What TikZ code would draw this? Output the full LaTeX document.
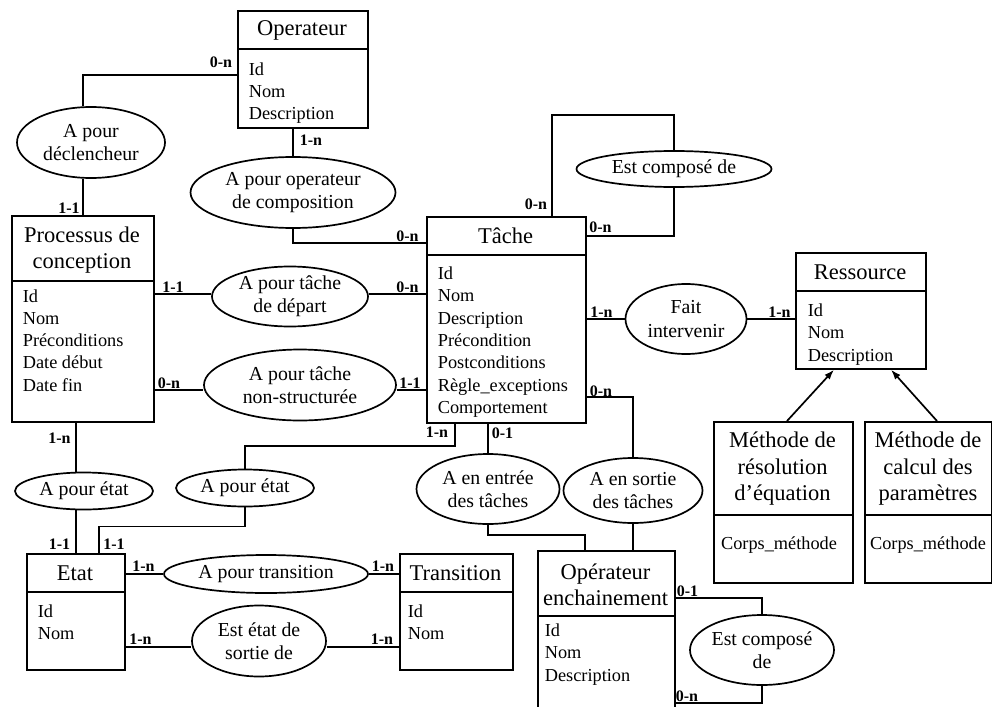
\documentclass[tikz,border=0pt]{standalone}
\usepackage{fontspec}
\setmainfont{Liberation Serif}
\usetikzlibrary{arrows.meta,calc,positioning,shapes.geometric}

\begin{document}
\begin{tikzpicture}[x=1pt, y=-1pt, line width=1.7pt,
    entity/.style={rectangle, draw, anchor=north west, inner sep=0pt},
    etitle/.style={font=\fontsize{22.5}{26.5}\selectfont, align=center, inner sep=0pt},
    attrs/.style={font=\fontsize{18.3}{22.3}\selectfont, align=left, anchor=north west, inner sep=0pt},
    relation/.style={ellipse, draw, font=\fontsize{19.8}{23.3}\selectfont, align=center, inner sep=0pt},
    card/.style={font=\bfseries\fontsize{16}{16}\selectfont, inner sep=0pt},
    isa/.style={-{Latex[length=10pt, width=7pt]}}]
    \clip (0,0) rectangle (992,706);

    % entites
    \node[entity, minimum width=130pt, minimum height=117pt] (oper) at (237,10) {};
    \draw (oper.west |- 0,49) -- (oper.east |- 0,49);
    \node[etitle] (operT) at (302,30) {Operateur};
    \node[attrs] (operA) at (248,61.5) {Id\\Nom\\Description};

    \node[entity, minimum width=142pt, minimum height=206pt] (proc) at (11,215) {};
    \draw (proc.west |- 0,281) -- (proc.east |- 0,281);
    \node[etitle] (procT) at (82,250) {Processus de\\conception};
    \node[attrs] (procA) at (22,288.5) {Id\\Nom\\Préconditions\\Date début\\Date fin};

    \node[entity, minimum width=159pt, minimum height=206pt] (tache) at (426,216) {};
    \draw (tache.west |- 0,255) -- (tache.east |- 0,255);
    \node[etitle] (tacheT) at (505.5,236) {Tâche};
    \node[attrs] (tacheA) at (437,266) {Id\\Nom\\Description\\Précondition\\Postconditions\\Règle\_exceptions\\Comportement};

    \node[entity, minimum width=130pt, minimum height=116pt] (ress) at (795,252) {};
    \draw (ress.west |- 0,291) -- (ress.east |- 0,291);
    \node[etitle] (ressT) at (860,272) {Ressource};
    \node[attrs] (ressA) at (807,303) {Id\\Nom\\Description};

    \node[entity, minimum width=139pt, minimum height=161pt] (meth1) at (713,421) {};
    \draw (meth1.west |- 0,515) -- (meth1.east |- 0,515);
    \node[etitle] (meth1T) at (782.5,469) {Méthode de\\résolution\\d’équation};
    \node[attrs, anchor=center] (meth1A) at (779,545) {Corps\_méthode};

    \node[entity, minimum width=127pt, minimum height=161pt] (meth2) at (864,421) {};
    \draw (meth2.west |- 0,515) -- (meth2.east |- 0,515);
    \node[etitle] (meth2T) at (928,469) {Méthode de\\calcul des\\paramètres};
    \node[attrs, anchor=center] (meth2A) at (928,545) {Corps\_méthode};

    \node[entity, minimum width=98pt, minimum height=116pt] (etat) at (26,553) {};
    \draw (etat.west |- 0,592) -- (etat.east |- 0,592);
    \node[etitle] (etatT) at (75,573) {Etat};
    \node[attrs] (etatA) at (37,603.5) {Id\\Nom};

    \node[entity, minimum width=113pt, minimum height=116pt] (transi) at (399,553) {};
    \draw (transi.west |- 0,592) -- (transi.east |- 0,592);
    \node[etitle] (transiT) at (455.5,573) {Transition};
    \node[attrs] (transiA) at (407,603.5) {Id\\Nom};

    \node[entity, minimum width=137pt, minimum height=170pt] (opench) at (537,550) {};
    \draw (opench.west |- 0,616) -- (opench.east |- 0,616);
    \node[etitle] (openchT) at (605.5,585) {Opérateur\\enchainement};
    \node[attrs] (openchA) at (544,623) {Id\\Nom\\Description};

    % associations
    \node[relation, minimum width=148pt, minimum height=71pt] (decl) at (91,142.5) {A pour\\déclencheur};
    \node[relation, minimum width=205pt, minimum height=71pt] (opcomp) at (293,192.5) {A pour operateur\\de composition};
    \node[relation, minimum width=195pt, minimum height=36pt] (estcomp) at (674,169) {Est composé de};
    \node[relation, minimum width=156pt, minimum height=60pt] (depart) at (290,296.5) {A pour tâche\\de départ};
    \node[relation, minimum width=192pt, minimum height=71pt] (nonstruct) at (300,385) {A pour tâche\\non-structurée};
    \node[relation, minimum width=121pt, minimum height=70pt] (fait) at (686,319) {Fait\\intervenir};
    \node[relation, minimum width=138pt, minimum height=37pt] (etat1) at (84,491) {A pour état};
    \node[relation, minimum width=138pt, minimum height=37pt] (etat2) at (245,488) {A pour état};
    \node[relation, minimum width=204pt, minimum height=38pt] (trans) at (266,574) {A pour transition};
    \node[relation, minimum width=134pt, minimum height=71pt] (sortie) at (259,641) {Est état de\\sortie de};
    \node[relation, minimum width=143pt, minimum height=70pt] (entree) at (488,489) {A en entrée\\des tâches};
    \node[relation, minimum width=139pt, minimum height=65pt] (ensortie) at (633,490.5) {A en sortie\\des tâches};
    \node[relation, minimum width=144pt, minimum height=70pt] (estcomp2) at (762,650) {Est composé\\de};

    % liens
    \draw (oper.west |- 0,75) -| (decl.north -| 83,0);
    \draw (decl.south -| 83,0) -- (proc.north -| 83,0);
    \draw (oper.south -| opcomp) -- (opcomp);
    \draw (opcomp) |- (tache.west |- 0,243);
    \draw (tache.north -| 552,0) |- (estcomp.north |- 0,115) -- (estcomp);
    \draw (estcomp) |- (tache.east |- 0,236);
    \draw (proc.east |- 0,294) -- (depart.west |- 0,294);
    \draw (depart.east |- 0,294) -- (tache.west |- 0,294);
    \draw (proc.east |- 0,390) -- (nonstruct.west |- 0,390);
    \draw (nonstruct.east |- 0,390) -- (tache.west |- 0,390);
    \draw (tache.east |- fait) -- (fait) -- (ress.west |- fait);
    \draw[isa] (meth1.north -| 787,0) -- (ress.south -| 834,0);
    \draw[isa] (meth2.north -| 937,0) -- (ress.south -| 891,0);
    \draw (proc.south -| 76,0) -- (etat1.north -| 76,0);
    \draw (etat1.south -| 76,0) -- (etat.north -| 76,0);
    \draw (tache.south -| 455,0) |- (etat2.north |- 0,446) -- (etat2);
    \draw (etat2.south) -- ++(0,19) -| (etat.north -| 99,0);
    \draw (etat.east |- trans) -- (trans) -- (transi.west |- trans);
    \draw (etat.east |- 0,647) -- (sortie.west |- 0,647);
    \draw (sortie.east |- 0,647) -- (transi.west |- 0,647);
    \draw (tache.south -| entree) -- (entree);
    \draw (entree.south) -- ++(0,10) -| (opench.north -| 585,0);
    \draw (tache.east |- 0,397) -| (ensortie);
    \draw (ensortie) -- (ensortie |- opench.north);
    \draw (opench.east |- 0,598) -| (estcomp2);
    \draw (estcomp2) |- (opench.east |- 0,703);

    % cardinalites
    \node[card] (cOperDecl) at (221,62) {0-n};
    \node[card] (cDeclProc) at (69,208) {1-1};
    \node[card] (cOperComp) at (311,140) {1-n};
    \node[card] (cCompTache) at (407.5,236) {0-n};
    \node[card] (cTacheComp1) at (536,204) {0-n};
    \node[card] (cTacheComp2) at (600.5,227) {0-n};
    \node[card] (cProcDepart) at (173,287) {1-1};
    \node[card] (cTacheDepart) at (407.5,287) {0-n};
    \node[card] (cProcNonstr) at (169,383) {0-n};
    \node[card] (cTacheNonstr) at (410,383) {1-1};
    \node[card] (cTacheFait) at (601.5,312.5) {1-n};
    \node[card] (cRessFait) at (779.5,312.5) {1-n};
    \node[card] (cProcEtat) at (59.5,438) {1-n};
    \node[card] (cEtatProc) at (59.5,544) {1-1};
    \node[card] (cTacheEtat) at (437,432) {1-n};
    \node[card] (cEtatTache) at (114,544) {1-1};
    \node[card] (cEtatTrans) at (143.5,566.5) {1-n};
    \node[card] (cTransEtat) at (383,566.5) {1-n};
    \node[card] (cEtatSortie) at (140.5,639) {1-n};
    \node[card] (cTransSortie) at (382,639) {1-n};
    \node[card] (cTacheEntree) at (502.5,433) {0-1};
    \node[card] (cTacheSortie) at (601,391.5) {0-n};
    \node[card] (cOpComp1) at (687.5,591.5) {0-1};
    \node[card] (cOpComp2) at (687,696.5) {0-n};
\end{tikzpicture}
\end{document}
